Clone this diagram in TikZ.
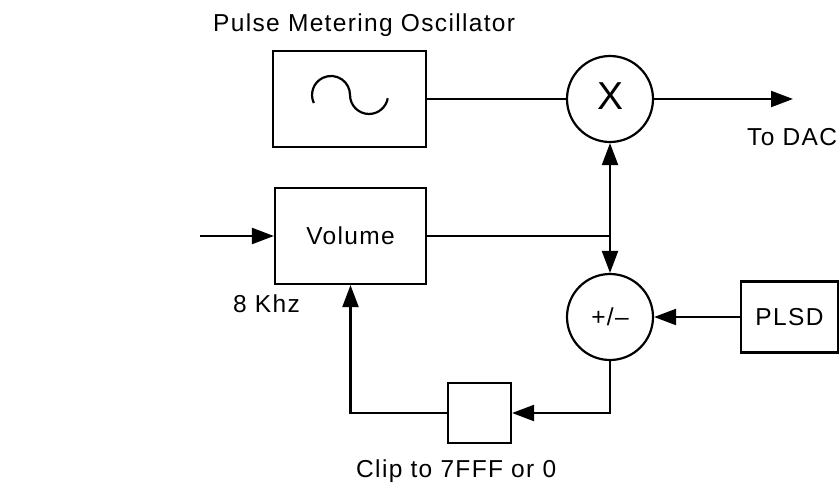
\documentclass[tikz,border=0pt]{standalone}
\usepackage{fontspec}
\setmainfont{Liberation Sans}[LetterSpace=5.5]
\usetikzlibrary{arrows.meta}
\begin{document}
\begin{tikzpicture}[x=1pt,y=-1pt,
  every node/.style={font=\fontsize{24.5}{28}\selectfont, inner sep=0pt},
  blk/.style={draw, line width=2.2pt, rectangle},
  sumc/.style={draw, line width=2.2pt, circle, minimum size=86pt},
  wire/.style={line width=2.2pt},
  arr/.style={line width=2.2pt, -{Triangle[length=22pt,width=16pt]}},
  lbl/.style={anchor=base west}]
\useasboundingbox (0,0) rectangle (840,483);
% blocks
\node[blk, minimum width=153pt, minimum height=96pt] (osc) at (349.5,99) {};
\node[blk, minimum width=151pt, minimum height=96pt] (vol) at (350.5,236) {Volume};
\node[sumc] (mul) at (610,99) {\fontsize{39}{42}\selectfont\raisebox{5pt}{X}};
\node[sumc] (sum) at (610,317) {+/--};
\node[blk, minimum width=97pt, minimum height=71pt] (plsd) at (789.5,317) {PLSD};
\node[blk, minimum width=63pt, minimum height=60pt] (clip) at (479.5,413) {};
% sine symbol
\draw[wire] (313.8,103) arc[start angle=155,end angle=360,radius=19]
  arc[start angle=180,end angle=10,radius=19];
% coordinates
\coordinate (in) at (200,236);
\coordinate (out) at (793,99);
\coordinate (jn) at (610,236);
% labels
\node[lbl] (tosc) at (213,31) {Pulse Metering Oscillator};
\node[lbl] (tdac) at (747,145) {To DAC};
\node[lbl] (tkhz) at (233,312) {8 Khz};
\node[lbl] (tclip) at (356,477) {Clip to 7FFF or 0};
% connectors
\draw[wire] (osc.east) -- (mul.west);
\draw[arr] (mul.east) -- (out);
\draw[arr] (in) -- (vol.west);
\draw[wire] (vol.east) -- (jn);
\draw[arr] (jn) -- (mul.south);
\draw[arr] (jn) -- (sum.north);
\draw[arr] (plsd.west) -- (sum.east);
\draw[arr] (sum.south) |- (clip.east);
\draw[arr] (clip.west) -| (vol.south);
\end{tikzpicture}
\end{document}
